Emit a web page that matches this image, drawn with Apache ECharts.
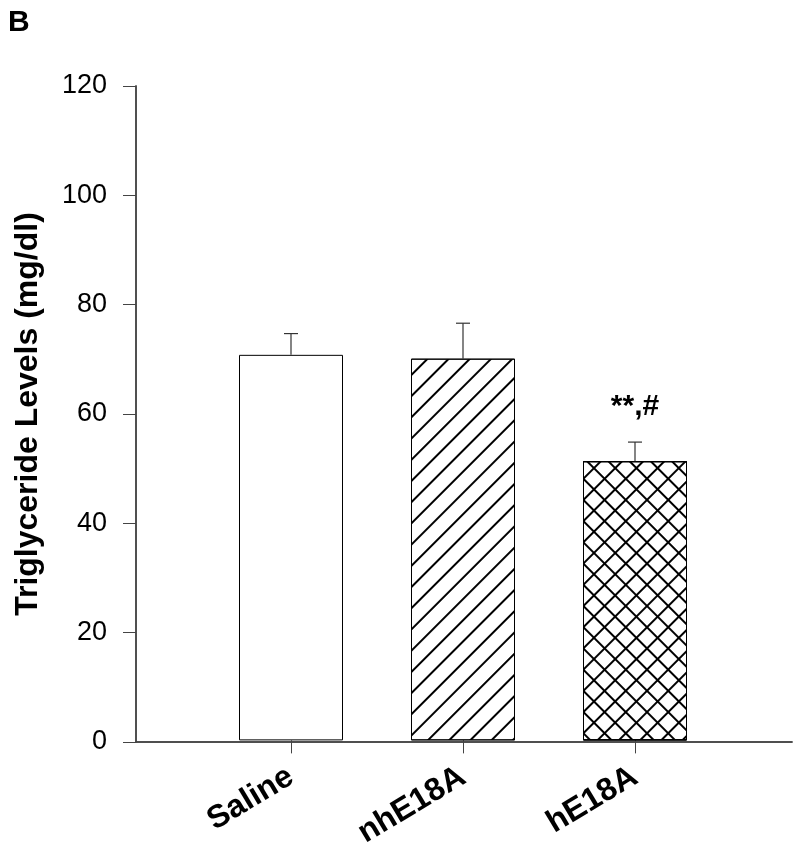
<!DOCTYPE html>
<html>
<head>
<meta charset="utf-8">
<script src="https://cdn.jsdelivr.net/npm/echarts@6/dist/echarts.min.js"></script>
<style>
  html, body { margin: 0; padding: 0; background: #fff; }
  #chart { width: 800px; height: 851px; }
</style>
</head>
<body>
<div id="chart"></div>
<script>
  // data
  var groups = ['Saline', 'nhE18A', 'hE18A'];
  var means = [70.7, 70.0, 51.2];
  var errors = [3.9, 6.5, 3.5];
  var marks = ['', '', '**,#'];
  var yTicks = [0, 20, 40, 60, 80, 100, 120];

  var lineColor = '#444';
  var font = '"Liberation Sans", Arial, sans-serif';

  // hatch patterns
  var hatchUp = {
    symbol: 'rect', symbolSize: 1, symbolKeepAspect: false,
    color: '#000', backgroundColor: null,
    dashArrayX: [1, 0], dashArrayY: [1.3, 12.7],
    rotation: -Math.PI / 4
  };
  var hatchDown = {
    symbol: 'rect', symbolSize: 1, symbolKeepAspect: false,
    color: '#000', backgroundColor: null,
    dashArrayX: [1, 0], dashArrayY: [1.3, 12.7],
    rotation: Math.PI / 4
  };
  var patterns = [null, hatchUp, hatchUp];

  var barData = groups.map(function (g, i) {
    var st = { color: '#fff', borderColor: '#000', borderWidth: 1 };
    if (patterns[i]) st.decal = patterns[i];
    return { value: means[i], itemStyle: st };
  });
  // second layer only for the cross hatched bar
  var crossData = groups.map(function (g, i) {
    if (i !== 2) return '-';
    return { value: means[i], itemStyle: { color: 'rgba(0,0,0,0)', borderColor: '#000', borderWidth: 1, decal: hatchDown } };
  });
  var errData = groups.map(function (g, i) { return [i, means[i], errors[i], marks[i]]; });

  var chart = echarts.init(document.getElementById('chart'));
  chart.setOption({
    animation: false,
    backgroundColor: '#fff',
    title: {
      text: 'B', left: 3, top: 3,
      textStyle: { fontFamily: font, fontSize: 30, fontWeight: 'bold', color: '#000' }
    },
    grid: [
      { left: 136, right: 8, top: 86, bottom: 109 },
      { left: 205, right: 79, top: 86, bottom: 109 }
    ],
    xAxis: [
      { type: 'value', gridIndex: 0, position: 'bottom', min: 0, max: 1,
        axisLine: { show: true, lineStyle: { color: lineColor, width: 1.5 } },
        axisTick: { show: false }, axisLabel: { show: false }, splitLine: { show: false } },
      { type: 'value', gridIndex: 0, position: 'top', min: 0, max: 1,
        axisLine: { show: true, lineStyle: { color: lineColor, width: 1.5 } },
        axisTick: { show: false }, axisLabel: { show: false }, splitLine: { show: false } },
      { type: 'category', gridIndex: 1, data: groups,
        axisLine: { show: false },
        axisTick: { show: true, alignWithLabel: true, length: 13, lineStyle: { color: lineColor } },
        axisLabel: { rotate: 31, margin: 34, color: '#000', fontFamily: font, fontSize: 32, fontWeight: 'bold' } }
    ],
    yAxis: [
      { type: 'value', gridIndex: 0, min: 0, max: 120, interval: 20,
        name: 'Triglyceride Levels (mg/dl)', nameLocation: 'middle', nameGap: 92,
        nameTextStyle: { fontFamily: font, fontSize: 32, fontWeight: 'bold', color: '#000' },
        axisLine: { show: true, lineStyle: { color: lineColor, width: 1.5 } },
        axisTick: { show: true, inside: false, length: 13, lineStyle: { color: lineColor } },
        axisLabel: { margin: 29, color: '#000', fontFamily: font, fontSize: 27,
          formatter: function (v) { return yTicks.indexOf(v) >= 0 ? String(v) : ''; } },
        splitLine: { show: false } },
      { type: 'value', gridIndex: 0, position: 'right', min: 0, max: 120,
        axisLine: { show: true, lineStyle: { color: lineColor, width: 1.5 } },
        axisTick: { show: false }, axisLabel: { show: false }, splitLine: { show: false } },
      { type: 'value', gridIndex: 1, min: 0, max: 120, show: false }
    ],
    series: [
      { type: 'bar', xAxisIndex: 2, yAxisIndex: 2, barWidth: 104, barGap: '-100%', data: barData },
      { type: 'bar', xAxisIndex: 2, yAxisIndex: 2, barWidth: 104, barGap: '-100%', data: crossData, z: 3 },
      { type: 'custom', xAxisIndex: 2, yAxisIndex: 2, z: 5, data: errData,
        renderItem: function (params, api) {
          var i = api.value(0), m = api.value(1), e = api.value(2);
          var base = api.coord([i, m]);
          var top = api.coord([i, m + e]);
          var txt = marks[params.dataIndex];
          var kids = [
            { type: 'line', shape: { x1: base[0], y1: base[1], x2: top[0], y2: top[1] }, style: { stroke: '#333', lineWidth: 1.2 } },
            { type: 'line', shape: { x1: top[0] - 7, y1: top[1], x2: top[0] + 7, y2: top[1] }, style: { stroke: '#333', lineWidth: 1.2 } }
          ];
          if (txt) {
            kids.push({ type: 'text', x: top[0], y: top[1] - 20,
              style: { text: txt, fill: '#000', font: 'bold 30px ' + font, textAlign: 'center', textVerticalAlign: 'bottom' } });
          }
          return { type: 'group', children: kids };
        } }
    ]
  });
</script>
</body>
</html>
